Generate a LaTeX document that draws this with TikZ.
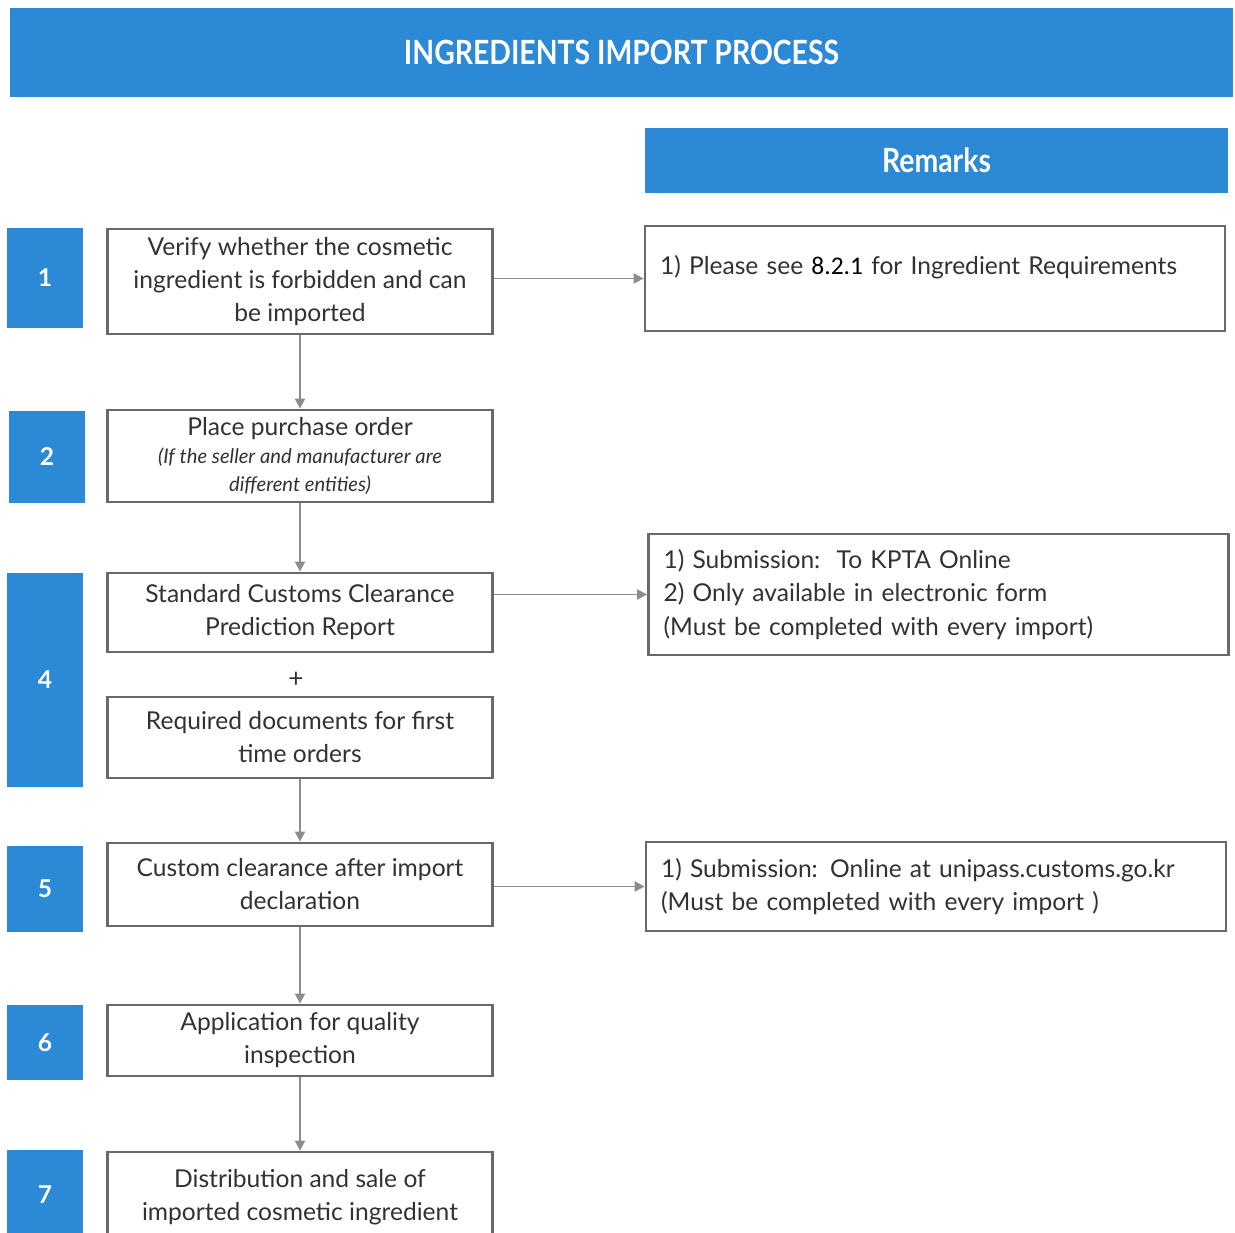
\documentclass[tikz,border=0pt]{standalone}
\usepackage{fontspec}
\setmainfont{Lato}
\newfontfamily\headfont{Lato}[FakeStretch=0.85]
\newfontfamily\refnumfont{Carlito}
\usetikzlibrary{arrows.meta}
\definecolor{headblue}{RGB}{43,137,214}
\definecolor{boxgray}{RGB}{105,105,105}
\definecolor{arrowgray}{RGB}{140,140,140}
\definecolor{textgray}{RGB}{50,50,50}
\newcommand{\noteit}{\itshape\fontsize{11.5}{14}\selectfont}

\begin{document}
\begin{tikzpicture}[x=0.02cm, y=-0.02cm,
    banner/.style={fill=headblue, text=white, inner sep=0pt, font=\headfont\bfseries},
    numbox/.style={fill=headblue, minimum width=1.54cm, inner sep=0pt, text=white, font=\bfseries\fontsize{14}{16}\selectfont},
    stepbox/.style={draw=boxgray, line width=1.6pt, fill=white, minimum width=7.7cm, inner sep=2pt, align=center, text=textgray, font=\fontsize{14}{18.8}\selectfont},
    remark/.style={draw=boxgray, line width=1.6pt, fill=white, minimum width=11.6cm, inner xsep=0.3cm, text width=11cm, align=left, text=textgray, font=\fontsize{14}{19}\selectfont},
    flow/.style={draw=arrowgray, line width=1.1pt, -{Triangle[length=2mm, width=2mm]}}]

    \clip (0,0) rectangle (1235,1233); % picture is cut at the bottom

    % Headers
    \node[banner, minimum width=24.46cm, minimum height=1.78cm, font=\headfont\bfseries\fontsize{19}{23}\selectfont] (title) at (621.5,52.5) {INGREDIENTS IMPORT PROCESS};
    \node[banner, minimum width=11.66cm, minimum height=1.3cm, font=\headfont\bfseries\fontsize{19}{22}\selectfont] (remarks) at (936.5,160.5) {Remarks};

    % Step numbers
    \node[numbox, minimum height=2.0cm] (n1) at (45,278) {1};
    \node[numbox, minimum height=1.84cm] (n2) at (47,457) {2};
    \node[numbox, minimum height=4.28cm] (n4) at (45,680) {4};
    \node[numbox, minimum height=1.72cm] (n5) at (45,889) {5};
    \node[numbox, minimum height=1.5cm] (n6) at (45,1042.5) {6};
    \node[numbox, minimum height=1.8cm] (n7) at (45,1195) {7};

    % Process steps
    \node[stepbox, minimum height=2.1cm] (s1) at (300,281.5) {Verify whether the cosmetic\\ingredient is forbidden and can\\be imported};
    \node[stepbox, minimum height=1.84cm] (s2) at (300,456) {Place purchase order\\[-3pt]{\noteit (If the seller and manufacturer are}\\[-3pt]{\noteit different entities)}};
    \node[stepbox, minimum height=1.58cm] (s4a) at (300,612.5) {Standard Customs Clearance\\Prediction Report};
    \node[text=textgray, font=\fontsize{15}{18}\selectfont] (plus) at (296,680) {+};
    \node[stepbox, minimum height=1.62cm] (s4b) at (300,737.5) {Required documents for first\\time orders};
    \node[stepbox, minimum height=1.66cm] (s5) at (300,884.5) {Custom clearance after import\\declaration};
    \node[stepbox, minimum height=1.42cm] (s6) at (300,1040.5) {Application for quality\\inspection};
    \node[stepbox, minimum height=1.8cm] (s7) at (300,1197) {Distribution and sale of\\imported cosmetic ingredient};

    % Remarks
    \node[remark, minimum height=2.1cm] (r1) at (935,278.5) {1) Please see {\refnumfont\color{black}\fontsize{14.5}{19}\selectfont 8.2.1} for Ingredient Requirements\\[-9pt]\strut};
    \node[remark, minimum height=2.42cm] (r4) at (938.5,594.5) {1) Submission:\ \ To KPTA Online\\2) Only available in electronic form\\(Must be completed with every import)};
    \node[remark, minimum height=1.78cm] (r5) at (936,886.5) {1) Submission: Online at unipass.customs.go.kr\\(Must be completed with every import )};

    % Connectors
    \draw[flow] (s1.south) -- (s2.north);
    \draw[flow] (s2.south) -- (s4a.north);
    \draw[flow] (s4b.south) -- (s5.north);
    \draw[flow] (s5.south) -- (s6.north);
    \draw[flow] (s6.south) -- (s7.north);
    \draw[flow] (r1.west -| s1.east) -- (r1.west);
    \draw[flow] (r4.west -| s4a.east) -- (r4.west);
    \draw[flow] (r5.west -| s5.east) -- (r5.west);
\end{tikzpicture}
\end{document}
